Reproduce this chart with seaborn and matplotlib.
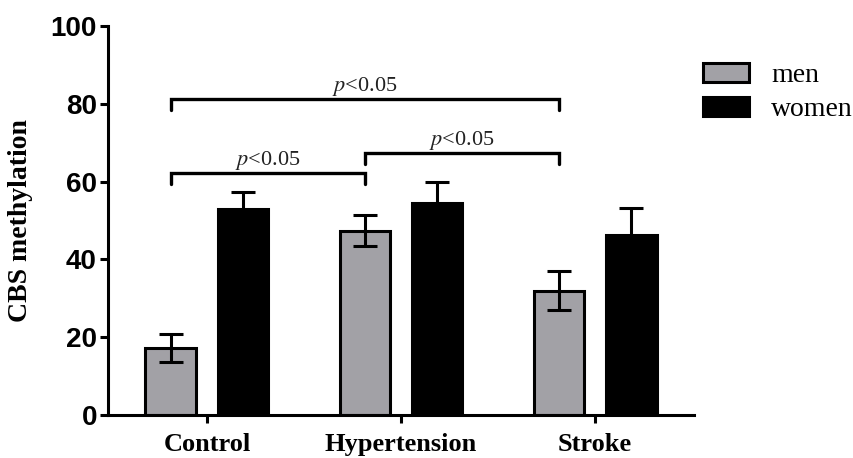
import matplotlib
matplotlib.use("Agg")
import matplotlib.pyplot as plt
from matplotlib.patches import Patch
import seaborn as sns
import pandas as pd

# ---- data ----
groups = ["Control", "Hypertension", "Stroke"]
sexes = ["men", "women"]
men_mean = [17.2, 47.4, 32.0]
men_err = [3.6, 3.9, 5.0]
women_mean = [52.9, 54.6, 46.4]
women_err = [4.3, 5.4, 6.9]
y_ticks = [0, 20, 40, 60, 80, 100]
# significance brackets: (group a, group b, height) all between men bars
brackets = [(0, 1, 62.1), (1, 2, 67.3), (0, 2, 81.2)]
sig_label = "$p$<0.05"

df = pd.DataFrame({
    "group": groups * 2,
    "sex": ["men"] * 3 + ["women"] * 3,
    "value": men_mean + women_mean,
})
errs = {"men": men_err, "women": women_err}

sns.set_style("white")
plt.rcParams["mathtext.fontset"] = "stix"
plt.rcParams["text.color"] = "black"
plt.rcParams["xtick.color"] = "black"
plt.rcParams["ytick.color"] = "black"
plt.rcParams["axes.labelcolor"] = "black"

fig = plt.figure(figsize=(8.54, 4.58), dpi=100)
ax = fig.add_axes([108 / 854, 1 - 415 / 458, 586 / 854, 389 / 458])

palette = {"men": "#a2a1a6", "women": "#000000"}
sns.barplot(data=df, x="group", y="value", hue="sex", order=groups,
            hue_order=sexes, palette=palette, width=0.75, gap=0.31,
            edgecolor="black", linewidth=2.2, legend=False, errorbar=None,
            saturation=1, ax=ax)

centers = {}
for sex, cont in zip(sexes, ax.containers):
    xs = [b.get_x() + b.get_width() / 2 for b in cont]
    hs = [b.get_height() for b in cont]
    centers[sex] = xs
    ax.errorbar(xs, hs, yerr=errs[sex], fmt="none", ecolor="black",
                elinewidth=2.2, capsize=8.5, capthick=2.2, zorder=5)

leg_len = 2.8
for a, b, h in brackets:
    xa, xb = centers["men"][a], centers["men"][b]
    ax.plot([xa, xa, xb, xb], [h - leg_len, h, h, h - leg_len], color="black",
            lw=2.4, solid_joinstyle="miter", clip_on=False)
    ax.text((xa + xb) / 2, h + 0.4, sig_label, ha="center", va="bottom",
            fontsize=16, family="Liberation Serif", color="#222222")

ax.set_xlim(-0.51, 2.51)
ax.set_ylim(0, 100)
ax.set_yticks(y_ticks)
ax.set_yticklabels([str(t) for t in y_ticks], fontsize=20,
                   family="Liberation Sans", fontweight="bold")
ax.set_xticks(range(len(groups)))
ax.set_xticklabels(groups, fontsize=19, family="Liberation Serif",
                   fontweight="bold")
ax.set_xlabel("")
ax.set_ylabel("CBS methylation", fontsize=20, family="Liberation Serif",
              fontweight="bold")
ax.yaxis.set_label_coords(-0.128, 0.5)

for s in ["top", "right"]:
    ax.spines[s].set_visible(False)
for s in ["left", "bottom"]:
    ax.spines[s].set_linewidth(2.2)
    ax.spines[s].set_color("black")
ax.tick_params(axis="both", which="major", length=6, width=2.2,
               color="black", direction="out", left=True, bottom=True)
ax.tick_params(axis="y", pad=2)
ax.tick_params(axis="x", pad=7)

handles = [Patch(facecolor=palette[s], edgecolor="black", linewidth=2.2,
                 label=s) for s in sexes]
fig.legend(handles=handles, loc="upper left",
           bbox_to_anchor=(703 / 854, 1 - 63 / 458), frameon=False,
           prop={"family": "Liberation Serif", "size": 20},
           handlelength=1.65, handleheight=0.7, handletextpad=0.8,
           labelspacing=0.3, borderpad=0, borderaxespad=0)

fig.savefig("out.png", dpi=100)
